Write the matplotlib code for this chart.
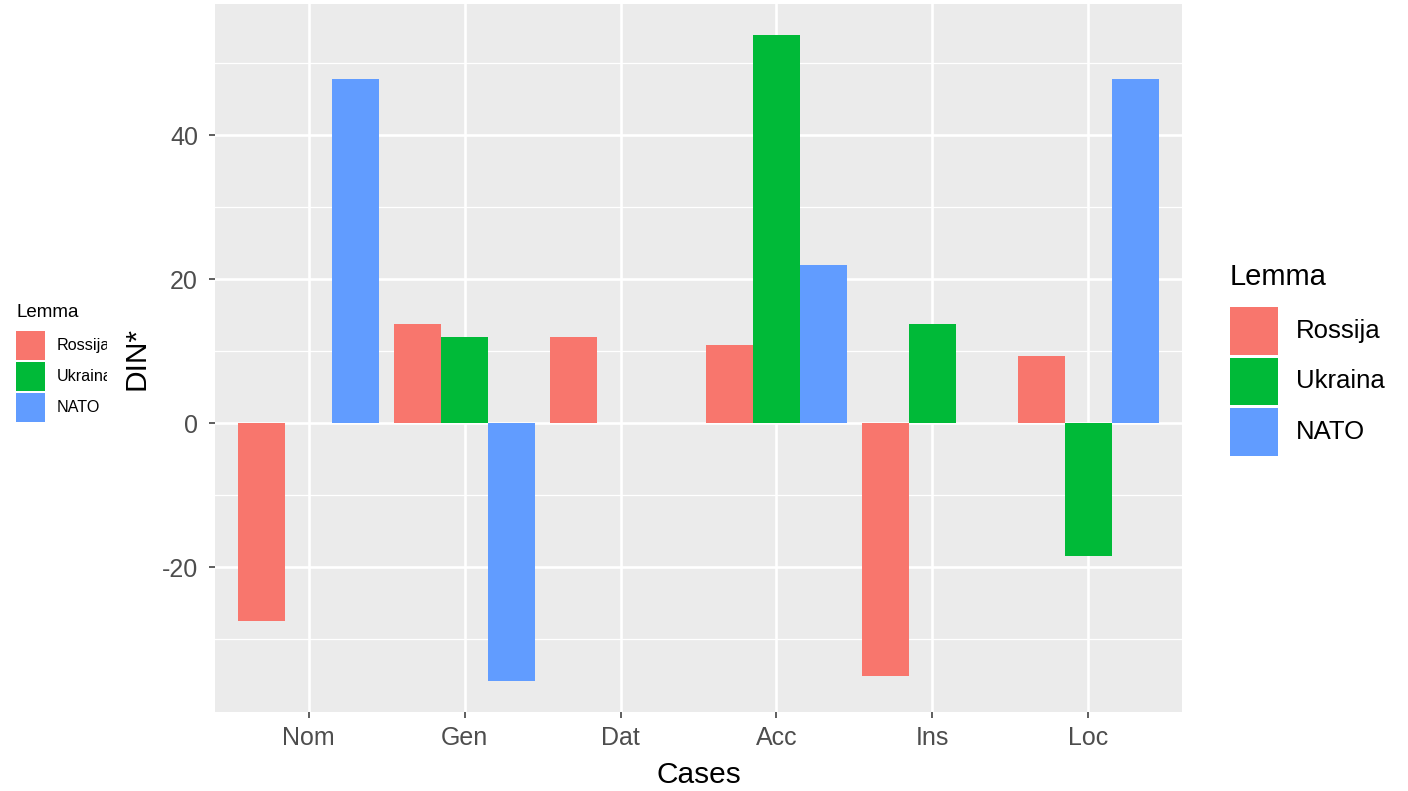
import numpy as np
import matplotlib
matplotlib.use('Agg')
import matplotlib.pyplot as plt
import matplotlib.patches as mpatches

# data (nan = no bar)
cases = ['Nom', 'Gen', 'Dat', 'Acc', 'Ins', 'Loc']
lemmas = ['Rossija', 'Ukraina', 'NATO']
rossija = [-27.4, 13.8, 11.9, 10.8, -35.1, 9.3]
ukraina = [np.nan, 11.9, np.nan, 53.9, 13.8, -18.5]
nato = [47.8, -35.8, np.nan, 21.9, np.nan, 47.8]
yticks = [-20, 0, 20, 40]

colors = ['#F8766D', '#00BA38', '#619CFF']
plt.rcParams['font.family'] = ['Liberation Sans', 'DejaVu Sans']
plt.rcParams['axes.unicode_minus'] = False

W, H = 1408, 791
fig = plt.figure(figsize=(W/100, H/100), dpi=100)
fig.patch.set_facecolor('white')

# main panel
ax = fig.add_axes([215/W, 1-712/H, 967/W, 708/H])
ax.set_facecolor('#EBEBEB')
for s in ax.spines.values():
    s.set_visible(False)
ax.set_xlim(0.4, 6.6)
ax.set_ylim(-40.1, 58.2)

x = np.arange(len(cases)) + 1
for i, vals in enumerate([rossija, ukraina, nato]):
    ax.bar(x + (i-1)*0.3, np.array(vals, dtype=float), width=0.3, color=colors[i], zorder=3)

ax.set_xticks(x)
ax.set_xticklabels(cases)
ax.set_yticks(yticks)
ax.set_yticks([-30, -10, 10, 30, 50], minor=True)
ax.grid(which='major', color='white', linewidth=1.9, zorder=1)
ax.grid(which='minor', axis='y', color='white', linewidth=0.9, zorder=1)
ax.tick_params(which='major', colors='#333333', length=4.3, width=1.1,
               labelsize=18, labelcolor='#4D4D4D')
ax.tick_params(axis='x', pad=6)
ax.tick_params(axis='y', pad=8)
ax.tick_params(which='minor', length=0)
ax.set_xlabel('Cases', fontsize=21.5, color='black', labelpad=8)
ax.set_ylabel('DIN*', fontsize=21.5, color='black', labelpad=8)

# overlay in pixel coordinates for the right legend
ov = fig.add_axes([0, 0, 1, 1])
ov.set_xlim(0, W)
ov.set_ylim(H, 0)
ov.axis('off')
ov.text(1230, 285, 'Lemma', fontsize=21, va='baseline', ha='left')
key_y = [307, 357.5, 408]
for i, lab in enumerate(lemmas):
    ov.add_patch(mpatches.Rectangle((1230, key_y[i]), 48, 47.5, facecolor=colors[i], edgecolor='none'))
    ov.text(1296, key_y[i] + 24, lab, fontsize=18.5, va='center', ha='left')

# small duplicate legend on the left, cut off by the axis title
lf = fig.add_axes([0, 0, 107/W, 1])
lf.set_xlim(0, 107)
lf.set_ylim(H, 0)
lf.axis('off')
lf.text(16, 317, 'Lemma', fontsize=13.5, va='baseline', ha='left', clip_on=True)
small_y = [331, 362, 393]
for i, lab in enumerate(lemmas):
    lf.add_patch(mpatches.Rectangle((16, small_y[i]), 29, 28.5, facecolor=colors[i], edgecolor='none'))
    lf.text(57, small_y[i] + 14.5, lab, fontsize=11.6, va='center', ha='left', clip_on=True)

fig.savefig('out.png', dpi=100)
